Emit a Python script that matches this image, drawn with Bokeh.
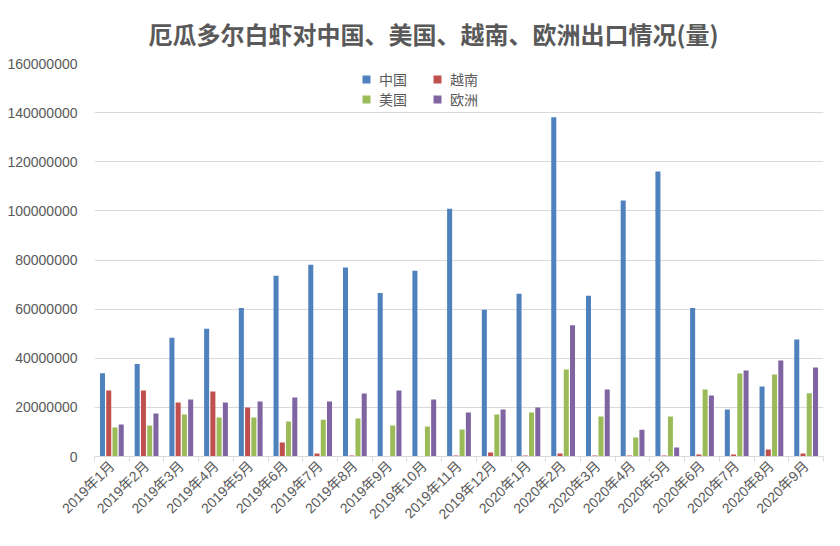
import numpy as np
from bokeh.plotting import figure
from bokeh.models import (ColumnDataSource, Range1d, FixedTicker, Legend, LegendItem,
                          NumeralTickFormatter)
from bokeh.embed import file_html
from bokeh.resources import INLINE

# ---------------- data ----------------
months = ["2019年1月", "2019年2月", "2019年3月", "2019年4月", "2019年5月", "2019年6月",
          "2019年7月", "2019年8月", "2019年9月", "2019年10月", "2019年11月", "2019年12月",
          "2020年1月", "2020年2月", "2020年3月", "2020年4月", "2020年5月", "2020年6月",
          "2020年7月", "2020年8月", "2020年9月"]
series_names = ["中国", "越南", "美国", "欧洲"]
china = [33900000, 37700000, 48300000, 52000000, 60500000, 73600000, 78100000, 76900000,
         66600000, 75600000, 100900000, 59700000, 66300000, 138100000, 65400000, 104200000,
         116000000, 60500000, 19100000, 28500000, 47600000]
vietnam = [26900000, 26900000, 22000000, 26500000, 20000000, 5700000, 1200000, 400000,
           0, 0, 400000, 1600000, 400000, 1200000, 400000, 400000,
           400000, 800000, 800000, 2800000, 1200000]
usa = [11800000, 12600000, 17100000, 15900000, 15900000, 14300000, 15000000, 15500000,
       12600000, 12200000, 11000000, 17100000, 17900000, 35400000, 16300000, 7700000,
       16300000, 27300000, 33800000, 33400000, 25700000]
europe = [13000000, 17500000, 23200000, 22000000, 22400000, 24000000, 22400000, 25600000,
          26900000, 23200000, 17900000, 19100000, 19900000, 53400000, 27300000, 10900000,
          3700000, 24800000, 35000000, 39100000, 36200000]
y_ticks = [0, 20000000, 40000000, 60000000, 80000000, 100000000, 120000000, 140000000, 160000000]

colors = ["#4F81BD", "#C0504D", "#9BBB59", "#8064A2"]
offsets = [-0.27, -0.09, 0.09, 0.27]
bar_w = 0.145

TXT = "#595959"
FONT = "Liberation Sans, Noto Sans CJK SC"
CJK = "Noto Sans CJK SC"

n = len(months)
centers = [i + 0.5 for i in range(n)]

p = figure(width=824, height=530, x_range=Range1d(0, n), y_range=Range1d(0, y_ticks[-1]),
           output_backend="svg", toolbar_location=None,
           min_border_left=94, min_border_right=1, min_border_top=63, min_border_bottom=74)
p.outline_line_color = None

renderers = []
for vals, col, off in zip([china, vietnam, usa, europe], colors, offsets):
    src = ColumnDataSource(dict(x=[c + off for c in centers], top=vals))
    r = p.vbar(x="x", top="top", width=bar_w, bottom=0, source=src,
               fill_color=col, line_color=None)
    renderers.append(r)

# title
p.title.text = "厄瓜多尔白虾对中国、美国、越南、欧洲出口情况(量)"
p.title.align = "left"
p.title.offset = 54
p.title.text_font = CJK
p.title.text_font_size = "24px"
p.title.text_font_style = "bold"
p.title.text_color = TXT
p.title.standoff = 26

# x axis
xa = p.xaxis[0]
xa.ticker = FixedTicker(ticks=centers, minor_ticks=list(range(n + 1)))
xa.major_label_overrides = {c: m for c, m in zip(centers, months)}
xa.major_label_orientation = np.pi / 4
xa.major_tick_line_color = None
xa.major_tick_out = 0
xa.major_tick_in = 0
xa.minor_tick_line_color = "#D9D9D9"
xa.minor_tick_in = 0
xa.minor_tick_out = 5
xa.axis_line_color = "#D9D9D9"
xa.major_label_text_font = FONT
xa.major_label_text_font_size = "14px"
xa.major_label_text_color = TXT
xa.major_label_standoff = 2

# y axis
ya = p.yaxis[0]
ya.ticker = FixedTicker(ticks=y_ticks)
ya.formatter = NumeralTickFormatter(format="0")
ya.axis_line_color = None
ya.major_tick_line_color = None
ya.minor_tick_line_color = None
ya.major_label_standoff = 11
ya.major_label_text_font = FONT
ya.major_label_text_font_size = "14px"
ya.major_label_text_color = TXT

p.xgrid.grid_line_color = None
p.ygrid.ticker = FixedTicker(ticks=y_ticks)
p.ygrid.grid_line_color = "#D9D9D9"

# legend (2 x 2)
def make_legend(idx, loc):
    leg = Legend(items=[LegendItem(label=series_names[i], renderers=[renderers[i]]) for i in idx],
                 orientation="horizontal", location=loc,
                 glyph_width=10, glyph_height=10, label_standoff=8, label_width=48,
                 label_height=22, spacing=5, padding=0, margin=0,
                 border_line_color=None, background_fill_alpha=0,
                 label_text_font=CJK, label_text_font_size="14px", label_text_color=TXT)
    p.add_layout(leg)

make_legend([0, 1], (267, 366))
make_legend([2, 3], (267, 346))

open("out.html", "w").write(file_html(p, INLINE))
